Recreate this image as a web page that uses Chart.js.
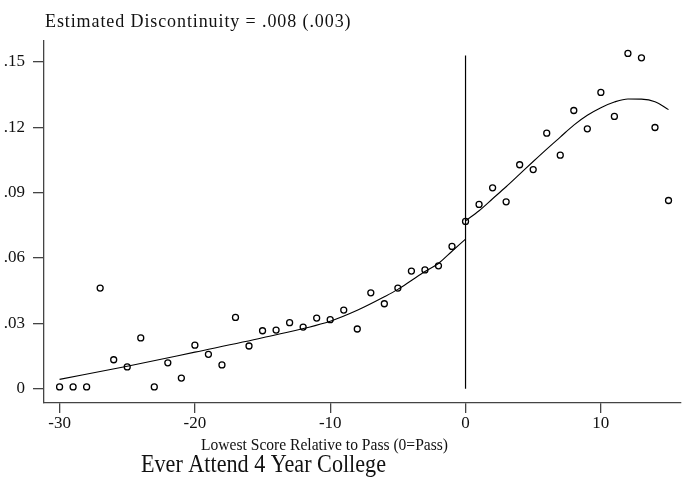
<!DOCTYPE html>
<html>
<head>
<meta charset="utf-8">
<script src="https://cdn.jsdelivr.net/npm/chart.js@4/dist/chart.umd.min.js"></script>
<style>
  html, body { margin: 0; padding: 0; background: #fff; }
  #wrap { width: 686px; height: 483px; position: relative; }
</style>
</head>
<body>
<div id="wrap"><canvas id="rdChart"></canvas></div>
<script>
// score bins relative to the pass mark, and share ever attending a 4 year college
const scoreBins = [-30, -29, -28, -27, -26, -25, -24, -23, -22, -21, -20, -19, -18, -17, -16, -15,
                   -14, -13, -12, -11, -10, -9, -8, -7, -6, -5, -4, -3, -2, -1,
                   0, 1, 2, 3, 4, 5, 6, 7, 8, 9, 10, 11, 12, 13, 14, 15];
const attendShare = [0.0008, 0.0008, 0.0008, 0.0462, 0.0133, 0.0100, 0.0233, 0.0008, 0.0119, 0.0049,
                     0.0200, 0.0158, 0.0109, 0.0327, 0.0196, 0.0266, 0.0269, 0.0303, 0.0283, 0.0324,
                     0.0317, 0.0361, 0.0274, 0.0440, 0.0390, 0.0462, 0.0540, 0.0545, 0.0564, 0.0653,
                     0.0768, 0.0846, 0.0922, 0.0858, 0.1028, 0.1006, 0.1173, 0.1072, 0.1277, 0.1193,
                     0.1360, 0.1250, 0.1539, 0.1519, 0.1199, 0.0864];

// fitted curve below the pass mark
const fitLeftX = [-30, -25, -20, -15, -10, -8, -6, -5, -4, -3, -2, -1, 0];
const fitLeftY = [0.0043, 0.0103, 0.0168, 0.0234, 0.0310, 0.0360, 0.0422, 0.0456, 0.0497, 0.0538, 0.0575, 0.0631, 0.0687];

// fitted curve above the pass mark
const fitRightX = [0, 1, 2, 3, 4, 5, 6, 7, 8, 9, 10, 11, 12, 13, 14, 15];
const fitRightY = [0.0771, 0.0817, 0.0872, 0.0927, 0.0985, 0.1043, 0.1100, 0.1155, 0.1210, 0.1255,
                   0.1290, 0.1316, 0.1330, 0.1329, 0.1317, 0.1281];

// cutoff line
const cutoffX = [0, 0];
const cutoffY = [0, 0.153];

const xTicks = [-30, -20, -10, 0, 10];
const yTicks = [0, 0.03, 0.06, 0.09, 0.12, 0.15];

const topNote = "Estimated Discontinuity = .008 (.003)";
const xTitle = "Lowest Score Relative to Pass (0=Pass)";
const bottomTitle = "Ever Attend 4 Year College";

const serif = "'Liberation Serif', 'DejaVu Serif', serif";
const axisColor = "#444";

function toPoints(xs, ys) {
    return xs.map((x, i) => ({ x: x, y: ys[i] }));
}

// draws the free-standing texts around the plot
const textPlugin = {
    id: "freeTexts",
    afterDraw(chart) {
        const c = chart.ctx;
        c.save();
        c.fillStyle = "#111";
        c.textAlign = "left";
        c.textBaseline = "alphabetic";
        c.font = "18px " + serif;
        c.letterSpacing = "0.9px";
        c.fillText(topNote, 45, 27, 308);
        c.letterSpacing = "0px";
        c.font = "16px " + serif;
        c.fillText(xTitle, 201, 450, 247);
        c.font = "25px " + serif;
        c.fillText(bottomTitle, 141, 472, 245);
        c.restore();
    }
};

const ctx = document.getElementById("rdChart").getContext("2d");
const rdChart = new Chart(ctx, {
    type: "scatter",
    data: {
        datasets: [
            {
                label: "Share",
                data: toPoints(scoreBins, attendShare),
                pointStyle: "circle",
                pointRadius: 3,
                pointBorderWidth: 1.3,
                pointBorderColor: "#000",
                pointBackgroundColor: "rgba(255,255,255,0)",
                showLine: false
            },
            {
                label: "Fit below",
                data: toPoints(fitLeftX, fitLeftY),
                showLine: true,
                borderColor: "#000",
                borderWidth: 1.1,
                pointRadius: 0,
                cubicInterpolationMode: "monotone"
            },
            {
                label: "Fit above",
                data: toPoints(fitRightX, fitRightY),
                showLine: true,
                borderColor: "#000",
                borderWidth: 1.1,
                pointRadius: 0,
                cubicInterpolationMode: "monotone"
            },
            {
                label: "Cutoff",
                data: toPoints(cutoffX, cutoffY),
                showLine: true,
                borderColor: "#000",
                borderWidth: 1.2,
                pointRadius: 0
            }
        ]
    },
    options: {
        responsive: true,
        maintainAspectRatio: false,
        animation: false,
        layout: { padding: { top: 41, left: 0, right: 0, bottom: 0 } },
        plugins: {
            legend: { display: false },
            tooltip: { enabled: false }
        },
        scales: {
            x: {
                type: "linear",
                min: -31.15,
                max: 15.9,
                afterBuildTicks: (scale) => { scale.ticks = xTicks.map(v => ({ value: v })); },
                afterFit: (scale) => { scale.height = 80; },
                grid: { drawOnChartArea: false, tickLength: 10, color: axisColor, lineWidth: 1.3 },
                border: { color: axisColor, width: 1.3 },
                ticks: {
                    font: { family: serif, size: 17 },
                    color: "#111",
                    padding: 0,
                    maxRotation: 0,
                    callback: (v) => String(v)
                }
            },
            y: {
                type: "linear",
                min: -0.00656,
                max: 0.1596,
                afterBuildTicks: (scale) => { scale.ticks = yTicks.map(v => ({ value: v })); },
                afterFit: (scale) => { scale.width = 44; },
                grid: { drawOnChartArea: false, tickLength: 11, color: axisColor, lineWidth: 1.3 },
                border: { color: axisColor, width: 1.3 },
                ticks: {
                    font: { family: serif, size: 17 },
                    color: "#111",
                    padding: 8,
                    callback: (v) => v === 0 ? "0" : v.toFixed(2).replace(/^0/, "")
                }
            }
        }
    },
    plugins: [textPlugin]
});
</script>
</body>
</html>
